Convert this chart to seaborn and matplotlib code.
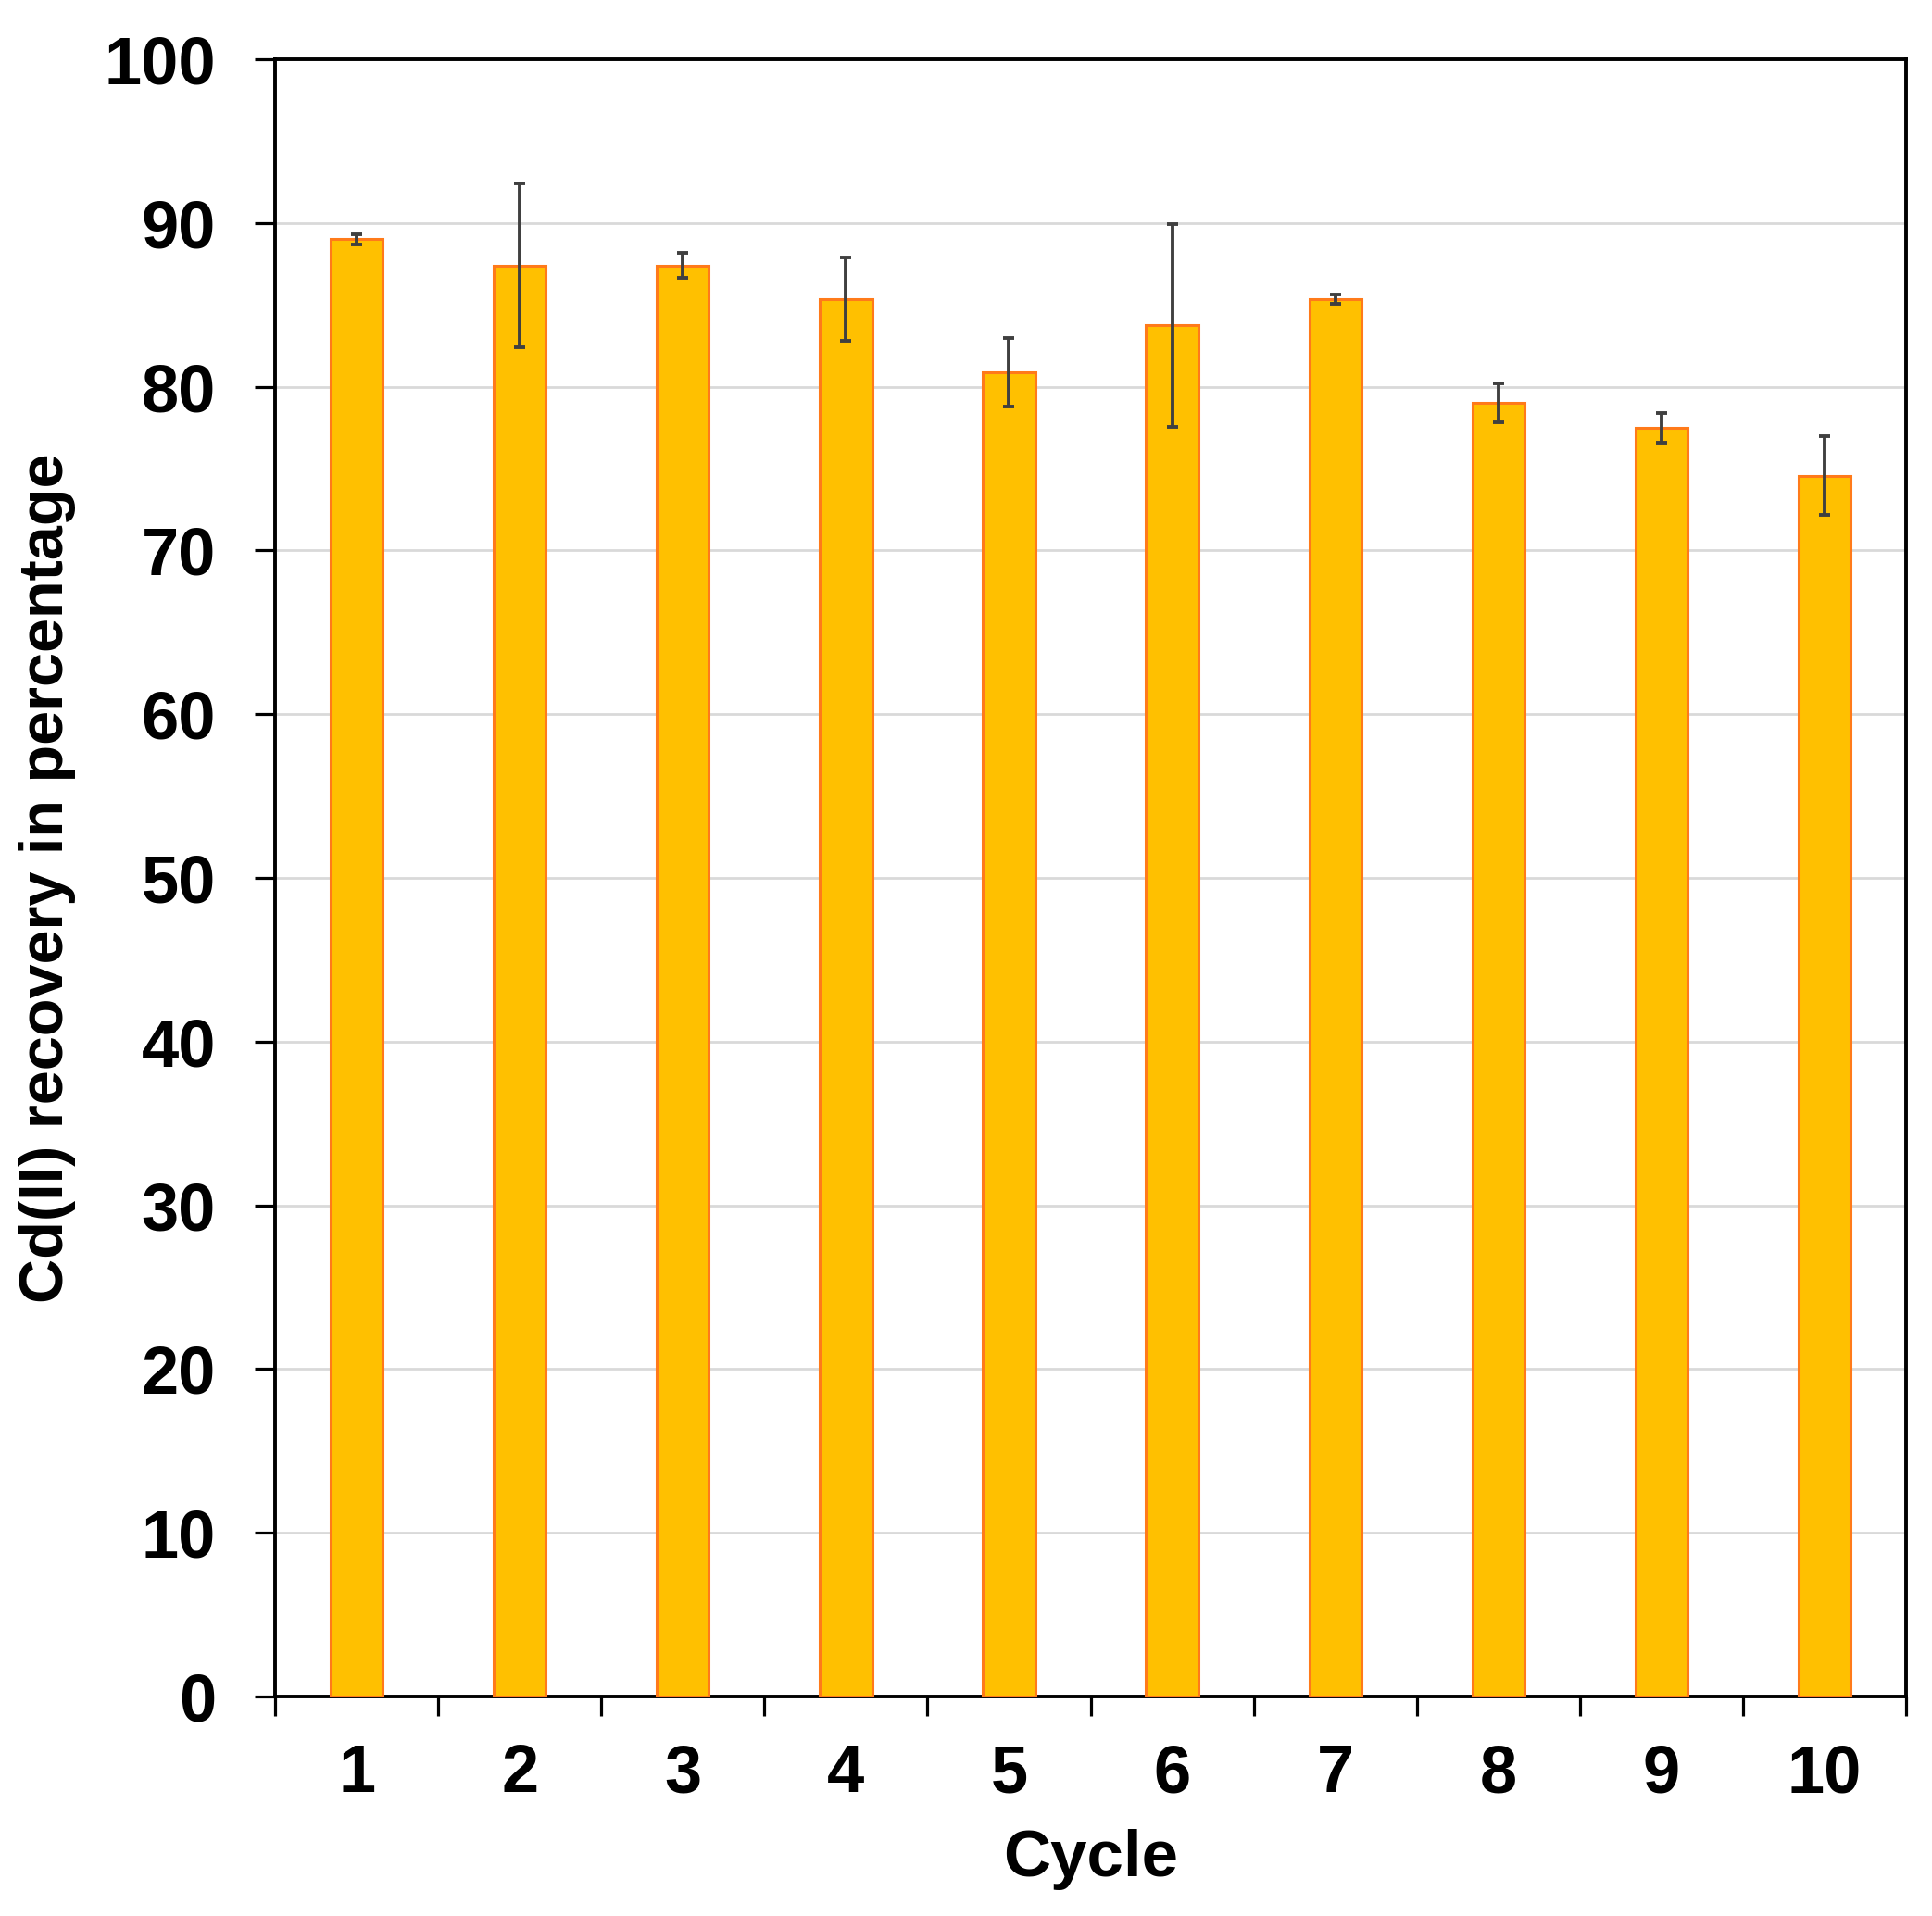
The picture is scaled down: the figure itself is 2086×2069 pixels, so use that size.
import matplotlib
matplotlib.use('Agg')
import matplotlib.pyplot as plt
import seaborn as sns
import pandas as pd
import numpy as np

# DATA -------------------------------------------------------------------------

cycles = ['1', '2', '3', '4', '5', '6', '7', '8', '9', '10']
recovery = [89.0, 87.4, 87.4, 85.35, 80.9, 83.75, 85.35, 79.0, 77.5, 74.55]
recovery_err = [0.3, 5.0, 0.75, 2.55, 2.1, 6.2, 0.3, 1.2, 0.9, 2.4]
y_ticks = [0, 10, 20, 30, 40, 50, 60, 70, 80, 90, 100]

df = pd.DataFrame({'Cycle': cycles, 'Recovery': recovery, 'Err': recovery_err})

# STYLE ------------------------------------------------------------------------

sns.set_style('white')
plt.rcParams['font.family'] = ['Liberation Sans', 'DejaVu Sans']
plt.rcParams['font.weight'] = 'bold'
plt.rcParams['text.color'] = 'black'
plt.rcParams['axes.labelcolor'] = 'black'
plt.rcParams['xtick.color'] = 'black'
plt.rcParams['ytick.color'] = 'black'

fig = plt.figure(figsize=(20.86, 20.69), dpi=100)
ax = fig.add_axes([0.1424, 0.1145, 0.8442, 0.8546])

# PLOT -------------------------------------------------------------------------

sns.barplot(data=df, x='Cycle', y='Recovery', order=cycles, color='#FFC000',
            width=0.32, edgecolor='#FF7A1A', linewidth=2.2, errorbar=None,
            saturation=1, ax=ax, zorder=3)

ax.errorbar(np.arange(len(cycles)), df['Recovery'], yerr=df['Err'], fmt='none',
            ecolor='#404040', elinewidth=2.8, capsize=4.5, capthick=2.8, zorder=4)

ax.set_ylim(0, 100)
ax.set_xlim(-0.5, len(cycles) - 0.5)
ax.set_yticks(y_ticks)
ax.yaxis.grid(True, color='#D9D9D9', linewidth=2, zorder=0)
ax.xaxis.grid(False)
ax.set_axisbelow(True)

# tick marks between categories, labels at the centre
ax.set_xticks(np.arange(len(cycles)))
ax.set_xticklabels(cycles)
ax.set_xticks(np.arange(len(cycles) + 1) - 0.5, minor=True)
ax.tick_params(axis='x', which='major', length=0, pad=36, labelsize=52)
ax.tick_params(axis='x', which='minor', length=15, width=2.3, direction='out',
               color='black', bottom=True)
ax.tick_params(axis='y', length=16, width=2.3, direction='out', color='black',
               left=True, pad=30, labelsize=52)

for side in ['left', 'right', 'top', 'bottom']:
    ax.spines[side].set_visible(True)
    ax.spines[side].set_color('black')
    ax.spines[side].set_linewidth(2.8)

ax.set_xlabel('Cycle', fontsize=51, fontweight='bold', labelpad=18)
ax.set_ylabel('Cd(II) recovery in percentage', fontsize=48, fontweight='bold', labelpad=22)

plt.savefig('out.png', dpi=100)
